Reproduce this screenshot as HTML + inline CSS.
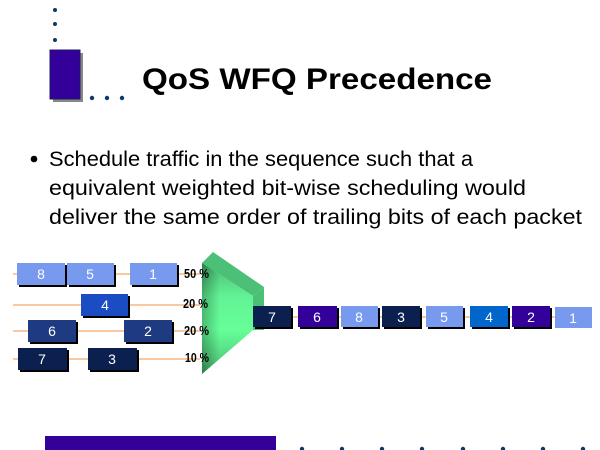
<!DOCTYPE html>
<html><head><meta charset="utf-8"><style>
html,body{margin:0;padding:0;background:#fff;}
svg{display:block;}
</style></head><body>
<svg width="600" height="450" viewBox="0 0 600 450" xmlns="http://www.w3.org/2000/svg" font-family="Liberation Sans, sans-serif">
<defs>
<linearGradient id="gf" x1="0" y1="0" x2="0" y2="1">
<stop offset="0" stop-color="#2f7a4a"/><stop offset="0.3" stop-color="#5fe590"/><stop offset="0.6" stop-color="#66ff99"/><stop offset="1" stop-color="#2f7a4a"/>
</linearGradient>
<linearGradient id="gs" x1="0" y1="0" x2="1" y2="0">
<stop offset="0" stop-color="#2f7a4a"/><stop offset="0.35" stop-color="#66ff99"/><stop offset="1" stop-color="#66ff99"/>
</linearGradient>
</defs>
<circle cx="55" cy="10" r="2" fill="#0a3a6a"/><circle cx="55" cy="24" r="2" fill="#0a3a6a"/><circle cx="55" cy="40" r="2" fill="#0a3a6a"/>
<rect x="53" y="53" width="30" height="49" fill="#888"/>
<rect x="50" y="50" width="30" height="49" fill="#330099" stroke="#1a1a66" stroke-width="1"/>
<circle cx="92" cy="98" r="2.2" fill="#0a3a6a"/><circle cx="107" cy="98" r="2.2" fill="#0a3a6a"/><circle cx="122" cy="98" r="2.2" fill="#0a3a6a"/>
<text x="317" y="89" font-size="30" font-weight="bold" text-anchor="middle" textLength="350" lengthAdjust="spacingAndGlyphs">QoS WFQ Precedence</text>
<circle cx="34" cy="159" r="3.3" fill="#000"/>
<text font-size="21" fill="#000">
<tspan x="49" y="166" textLength="424" lengthAdjust="spacingAndGlyphs">Schedule traffic in the sequence such that a</tspan>
<tspan x="49" y="195" textLength="477" lengthAdjust="spacingAndGlyphs">equivalent weighted bit-wise scheduling would</tspan>
<tspan x="49" y="224" textLength="533" lengthAdjust="spacingAndGlyphs">deliver the same order of trailing bits of each packet</tspan>
</text>
<g stroke="#f09040" stroke-width="1">
<line x1="13" y1="274" x2="200" y2="274"/>
<line x1="13" y1="305" x2="200" y2="305"/>
<line x1="13" y1="331" x2="200" y2="331"/>
<line x1="13" y1="359" x2="200" y2="359"/>
<line x1="290" y1="317" x2="580" y2="317"/>
</g>
<polygon points="202,263 213,252 264,287 253,296" fill="#4cc077"/>
<polygon points="253,296 264,287 264,330 253,330" fill="#4cc077"/>
<polygon points="202,263 253,296 253,330 202,374" fill="url(#gf)"/>
<polygon points="202,263 253,296 253,330 202,374" fill="url(#gs)" opacity="0.5"/>
<g font-size="13" font-weight="bold">
<text x="184" y="278" textLength="25" lengthAdjust="spacingAndGlyphs">50 %</text>
<text x="183" y="308" textLength="25" lengthAdjust="spacingAndGlyphs">20 %</text>
<text x="184" y="335" textLength="25" lengthAdjust="spacingAndGlyphs">20 %</text>
<text x="185" y="362" textLength="24" lengthAdjust="spacingAndGlyphs">10 %</text>
</g>
<g font-size="14" text-anchor="middle">
<rect x="19" y="265" width="48" height="22" fill="#000"/><rect x="17" y="263" width="48" height="22" fill="#7799ee"/><text x="41" y="279" fill="#fff">8</text>
<rect x="69" y="265" width="47" height="22" fill="#000"/><rect x="67" y="263" width="47" height="22" fill="#7799ee"/><text x="90" y="279" fill="#fff">5</text>
<rect x="132" y="265" width="47" height="22" fill="#000"/><rect x="130" y="263" width="47" height="22" fill="#7799ee"/><text x="153" y="279" fill="#fff">1</text>
<rect x="83" y="296" width="47" height="22" fill="#000"/><rect x="81" y="294" width="47" height="22" fill="#1c4cc4"/><text x="105" y="310" fill="#fff">4</text>
<rect x="30" y="322" width="48" height="22" fill="#000"/><rect x="28" y="320" width="48" height="22" fill="#1e3a80"/><text x="52" y="336" fill="#fff">6</text>
<rect x="126" y="322" width="48" height="22" fill="#000"/><rect x="124" y="320" width="48" height="22" fill="#1e3a80"/><text x="148" y="336" fill="#fff">2</text>
<rect x="20" y="350" width="49" height="22" fill="#000"/><rect x="18" y="348" width="49" height="22" fill="#0c2050"/><text x="42" y="364" fill="#fff">7</text>
<rect x="90" y="350" width="49" height="22" fill="#000"/><rect x="88" y="348" width="49" height="22" fill="#0c2050"/><text x="112" y="364" fill="#fff">3</text>
<rect x="255" y="308" width="38" height="21" fill="#000"/><rect x="253" y="306" width="38" height="21" fill="#0c2050"/><text x="272" y="322" fill="#fff">7</text>
<rect x="300" y="308" width="39" height="21" fill="#000"/><rect x="298" y="306" width="39" height="21" fill="#330099"/><text x="317" y="322" fill="#fff">6</text>
<rect x="343" y="308" width="37" height="21" fill="#000"/><rect x="341" y="306" width="37" height="21" fill="#7799ee"/><text x="359" y="322" fill="#fff">8</text>
<rect x="384" y="308" width="38" height="21" fill="#000"/><rect x="382" y="306" width="38" height="21" fill="#0c2050"/><text x="401" y="322" fill="#fff">3</text>
<rect x="428" y="308" width="37" height="21" fill="#000"/><rect x="426" y="306" width="37" height="21" fill="#7799ee"/><text x="444" y="322" fill="#fff">5</text>
<rect x="472" y="308" width="38" height="21" fill="#000"/><rect x="470" y="306" width="38" height="21" fill="#0066cc"/><text x="489" y="322" fill="#fff">4</text>
<rect x="514" y="308" width="38" height="21" fill="#000"/><rect x="512" y="306" width="38" height="21" fill="#330099"/><text x="531" y="322" fill="#fff">2</text>
<rect x="555" y="307" width="37" height="21" fill="#7799ee"/><text x="573" y="323" fill="#fff">1</text>
</g>
<rect x="45" y="436" width="231" height="14" fill="#330099"/>
<g fill="#0a3a6a">
<circle cx="302" cy="449" r="2.2"/><circle cx="342" cy="449" r="2.2"/><circle cx="382" cy="449" r="2.2"/><circle cx="422" cy="449" r="2.2"/>
<circle cx="463" cy="449" r="2.2"/><circle cx="503" cy="449" r="2.2"/><circle cx="543" cy="449" r="2.2"/><circle cx="583" cy="449" r="2.2"/>
</g>
</svg>
</body></html>
